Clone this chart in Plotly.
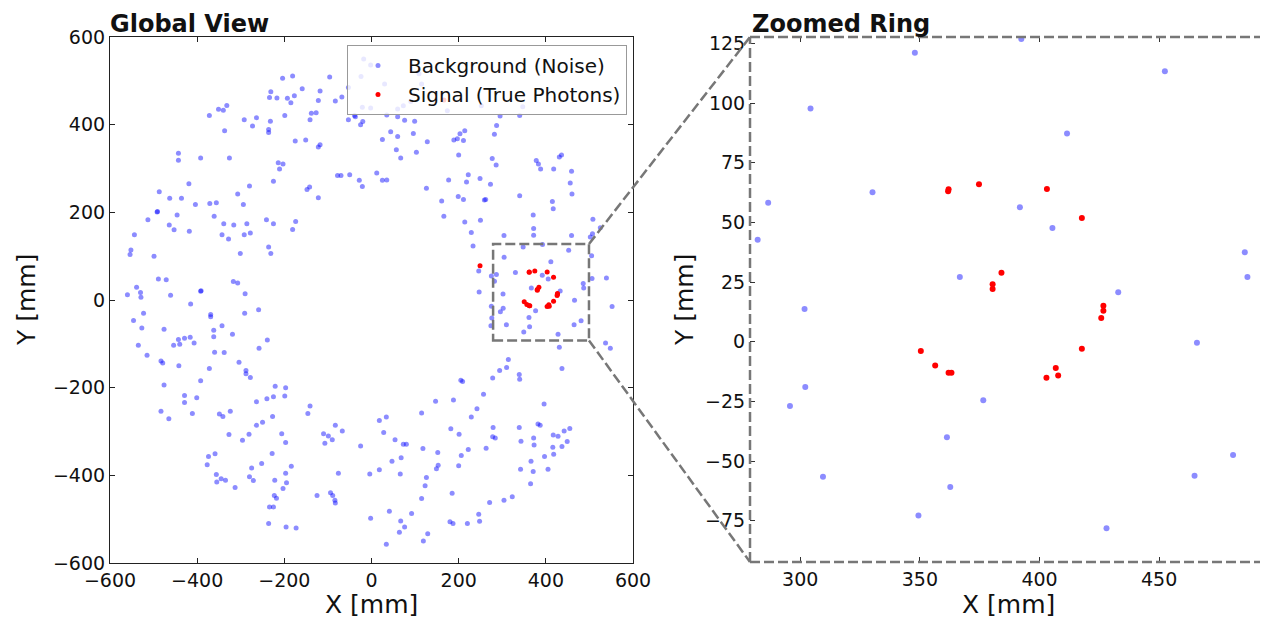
import plotly.graph_objects as go

# page is rendered with an 8px body margin, so the figure is 8px smaller than the window
OFF = 8
W, H = 1268 - OFF, 618 - OFF

# ---------------- data (mm) ----------------
# background hits read from the global view (outside the zoom window)
noise_upper_left = [(-204,506),(-231,475),(-234,462),(-217,461),(-193,460),(-332,444),(-351,435),(-340,433),(-372,421),(-199,421),
    (-292,411),(-264,416),(-232,408),(-273,397),(-337,386),(-236,389),(-236,382),(-443,335),(-443,319),(-392,324),(-326,324),
    (-214,313),(-203,310),(-211,299),(-225,271),(-419,265),(-280,260),(-487,247),(-307,242),(-463,232),(-436,232),(-404,218),
    (-371,220),(-356,222),(-294,218),(-492,201),(-491,202),(-446,194),(-361,191)]
noise_mid_left = [(-513,183),(-464,171),(-453,160),(-418,157),(-544,149),(-339,174),(-316,171),(-286,174),(-241,183),(-225,174),
    (-343,149),(-328,139),(-292,149),(-278,153),(-236,121),(-231,106),(-301,106),(-552,114),(-554,104),(-499,100),(-489,48),
    (-471,46),(-539,29),(-560,12),(-530,17),(-529,6),(-461,11),(-392,20),(-391,21),(-317,42),(-307,39),(-290,14),(-415,-9),
    (-523,-30),(-546,-47),(-369,-33),(-369,-38),(-291,-30),(-259,-22),(-527,-64),(-476,-67),(-343,-59),(-362,-69),(-362,-84),
    (-319,-78),(-443,-90),(-429,-87),(-416,-85),(-454,-103),(-440,-101),(-407,-98),(-535,-103),(-239,-91),(-258,-110),
    (-515,-126),(-483,-139),(-479,-144),(-360,-119),(-338,-120),(-304,-142),(-442,-150),(-372,-156),(-288,-161),(-288,-168),
    (-278,-177),(-392,-184),(-476,-194),(-221,-197),(-197,-200)]
noise_lower_left = [(-429,-218),(-429,-234),(-401,-223),(-483,-254),(-465,-271),(-411,-259),(-349,-260),(-341,-266),(-324,-254),
    (-264,-232),(-240,-225),(-225,-221),(-199,-219),(-227,-266),(-250,-279),(-264,-286),(-327,-307),(-296,-320),(-281,-306),
    (-206,-305),(-197,-325),(-228,-350),(-374,-357),(-359,-351),(-377,-376),(-252,-373),(-275,-383),(-356,-398),(-345,-408),
    (-335,-411),(-355,-415),(-280,-403),(-271,-412),(-313,-428),(-222,-411),(-197,-395),(-195,-417),(-203,-430),(-223,-446),
    (-218,-452),(-234,-472),(-225,-472),(-236,-510),(-196,-518)]
noise_upper_mid = [(-181,511),(-159,482),(-177,466),(-185,450),(-118,477),(-122,455),(-96,509),(-83,454),(-68,463),(-2,536),
    (-138,426),(-127,427),(-141,411),(-53,411),(-39,421),(-37,418),(-20,407),(-25,400),(35,422),(60,418),(76,410),(99,408),
    (44,384),(60,373),(96,380),(-175,363),(-151,365),(-122,349),(-118,354),(25,366),(57,343),(67,324),(103,337),(128,361),
    (189,365),(197,368),(203,379),(200,331),(-78,284),(-70,284),(-50,286),(-28,273),(-21,259),(12,290),(25,273),(35,274),
    (-148,252),(-142,258),(-122,233),(126,255),(177,274),(161,226),(199,236),(166,191),
    (-18,550),(-24,510),(30,493),(-53,485),(109,516),(115,493),(-21,440),(-2,438),(73,443),(90,453),(60,436),(174,432),
    (-174,179),(-181,161)]
noise_upper_right = [(295,420),(340,421),(252,443),(347,441),(287,398),(282,378),(214,386),(211,364),(277,323),(286,308),
    (378,318),(383,310),(388,299),(418,299),(431,326),(436,331),(459,294),(456,267),(460,242),(222,286),(218,269),(249,277),
    (273,264),(340,238),(211,229),(259,228),(262,229),(415,225),(417,208),(371,194)]
noise_mid_right = [(214,178),(250,182),(229,154),(304,147),(372,163),(372,148),(508,184),(525,165),(507,151),(502,144),
    (459,147),(233,123),(246,66),(247,18),(275,55),(539,50),(506,49),(505,101),(552,-15),(275,-14),(276,-41),(274,-59),
    (431,-108),(537,-98),(548,-110),(314,-136),(310,-154),(294,-161),(278,-178),(339,-170),(340,-181),(437,-156),
    (205,-183),(209,-186)]
noise_lower_mid = [(-184,-379),(-173,-520),(-141,-242),(-146,-259),(-83,-286),(-67,-299),(-110,-305),(-99,-310),(-90,-319),
    (-107,-327),(-25,-333),(18,-275),(34,-267),(28,-302),(54,-319),(73,-329),(80,-329),(115,-258),(147,-231),(188,-228),
    (182,-294),(201,-306),(118,-339),(152,-348),(206,-355),(47,-368),(68,-360),(18,-387),(-4,-397),(66,-397),(153,-377),
    (149,-385),(200,-378),(126,-405),(123,-424),(-76,-395),(-125,-446),(-94,-440),(-89,-446),(-84,-457),(-83,-463),
    (115,-453),(185,-441),(41,-482),(-2,-498),(92,-487),(67,-504),(76,-518),(64,-530),(34,-557),(129,-533),(119,-550),
    (180,-506),(187,-510)]
noise_lower_right = [(257,-215),(396,-237),(242,-248),(229,-267),(279,-291),(339,-291),(382,-283),(387,-286),(278,-312),
    (284,-315),(343,-322),(372,-315),(373,-331),(417,-308),(428,-311),(442,-299),(455,-293),(263,-338),(222,-341),
    (416,-336),(437,-334),(449,-323),(418,-352),(397,-357),(366,-368),(342,-386),(371,-391),(405,-386),(365,-419),
    (323,-449),(304,-457),(271,-462),(246,-489),(248,-505),(220,-510)]
# background hits
noise_zoom = [(347.9,121.1),(304.3,97.7),(286.6,58.2),(330.2,62.6),(282.2,42.7),(366.7,27.1),(392.4,126.9),(452.4,113.4),
    (411.5,87.3),(391.8,56.4),(405.4,47.7),(485.8,37.5),(486.9,27.1),(432.9,20.7),(301.8,13.7),(302.1,-19.0),(295.7,-26.9),
    (309.5,-56.6),(376.5,-24.5),(361.3,-40.0),(362.7,-60.9),(349.4,-72.8),(428.0,-78.2),(465.8,-0.4),(480.9,-47.5),
    (464.8,-56.2)]
# signal photons
signal = [(362.0,63.9),(361.8,63.1),(374.7,66.0),(384.1,28.9),(380.4,24.1),(380.4,22.1),(403.1,64.0),(417.7,51.9),
    (426.7,15.1),(426.7,13.0),(425.8,10.0),(417.7,-2.9),(406.8,-11.0),(407.8,-14.1),(402.9,-15.1),(350.4,-3.9),
    (356.4,-10.0),(362.0,-13.0),(363.2,-13.0),(249,78),(166,456)]

global_ticks = [-600, -400, -200, 0, 200, 400, 600]
zoom_xticks = [300, 350, 400, 450]
zoom_yticks = [-75, -50, -25, 0, 25, 50, 75, 100, 125]
zoom_window_x = (279, 499)
zoom_window_y = (-92.3, 127.7)

noise = (noise_upper_left + noise_mid_left + noise_lower_left + noise_upper_mid + noise_upper_right
         + noise_mid_right + noise_lower_mid + noise_lower_right + noise_zoom)
nx = [p[0] for p in noise]
ny = [p[1] for p in noise]
sx = [p[0] for p in signal]
sy = [p[1] for p in signal]

FONT = "DejaVu Sans"
BLUE = "rgba(0,0,255,0.45)"
RED = "rgb(255,0,0)"


def fx(px):  # window pixel -> paper fraction
    return (px - OFF) / W


def fy(py):
    return 1 - (py - OFF) / H


fig = go.Figure()
fig.add_trace(go.Scatter(x=nx, y=ny, mode="markers", name="Background (Noise)",
                         marker=dict(size=5, color=BLUE, line=dict(width=0)), xaxis="x", yaxis="y"))
fig.add_trace(go.Scatter(x=sx, y=sy, mode="markers", name="Signal (True Photons)",
                         marker=dict(size=5, color=RED, line=dict(width=0)), xaxis="x", yaxis="y"))
fig.add_trace(go.Scatter(x=nx, y=ny, mode="markers", showlegend=False,
                         marker=dict(size=6, color=BLUE, line=dict(width=0)), xaxis="x2", yaxis="y2"))
fig.add_trace(go.Scatter(x=sx, y=sy, mode="markers", showlegend=False,
                         marker=dict(size=6, color=RED, line=dict(width=0)), xaxis="x2", yaxis="y2"))

# domains (paper fractions)
L_x = (fx(110), fx(633))
L_y = (fy(563), fy(37))
R_x = (fx(750), 1.0)
R_y = (fy(562), fy(37))
R_xrange = (279, 495.5)

tick_font = dict(family=FONT, size=19, color="#111")
common = dict(showgrid=False, zeroline=False, ticks="inside", ticklen=5, tickwidth=1,
              tickfont=tick_font, mirror="ticks", automargin=False)

fig.update_layout(
    width=W, height=H, autosize=False,
    margin=dict(l=0, r=0, t=0, b=0, autoexpand=False),
    paper_bgcolor="white", plot_bgcolor="white",
    font=dict(family=FONT, color="#111"),
    xaxis=dict(domain=L_x, range=[-600, 600], tickvals=global_ticks, showline=True,
               linecolor="#222", linewidth=1.2, tickcolor="#222", anchor="y", **common),
    yaxis=dict(domain=L_y, range=[-600, 600], tickvals=global_ticks, showline=True,
               linecolor="#222", linewidth=1.2, tickcolor="#222", anchor="x", **common),
    xaxis2=dict(domain=R_x, range=list(R_xrange), tickvals=zoom_xticks, showline=True,
                linecolor="rgba(0,0,0,0)", tickcolor="#333", anchor="y2", **common),
    yaxis2=dict(domain=R_y, range=list(zoom_window_y), tickvals=zoom_yticks, showline=True,
                linecolor="rgba(0,0,0,0)", tickcolor="#333", anchor="x2", **common),
    legend=dict(x=fx(627), xanchor="right", y=fy(45), yanchor="top",
                bgcolor="rgba(255,255,255,0.8)", bordercolor="#999", borderwidth=1,
                font=dict(family=FONT, size=20, color="#111"), itemsizing="trace",
                itemwidth=50, tracegroupgap=0),
)

dash = dict(color="#777", width=2.5, dash="10px,4px")
shapes = []
# zoom window in global view
shapes.append(dict(type="rect", xref="x", yref="y", x0=zoom_window_x[0], x1=zoom_window_x[1],
                   y0=zoom_window_y[0], y1=zoom_window_y[1], line=dash, layer="above"))
# dashed frame of zoom panel (right side cut by figure edge)
shapes.append(dict(type="line", xref="paper", yref="paper", x0=R_x[0], x1=R_x[1], y0=R_y[1], y1=R_y[1], line=dash))
shapes.append(dict(type="line", xref="paper", yref="paper", x0=R_x[0], x1=R_x[1], y0=R_y[0], y1=R_y[0], line=dash))
shapes.append(dict(type="line", xref="paper", yref="paper", x0=R_x[0], x1=R_x[0], y0=R_y[0], y1=R_y[1], line=dash))


def lpx(v):
    return L_x[0] + (v + 600) / 1200 * (L_x[1] - L_x[0])


def lpy(v):
    return L_y[0] + (v + 600) / 1200 * (L_y[1] - L_y[0])


shapes.append(dict(type="line", xref="paper", yref="paper", x0=lpx(zoom_window_x[1]), y0=lpy(zoom_window_y[1]),
                   x1=R_x[0], y1=R_y[1], line=dash))
shapes.append(dict(type="line", xref="paper", yref="paper", x0=lpx(zoom_window_x[1]), y0=lpy(zoom_window_y[0]),
                   x1=R_x[0], y1=R_y[0], line=dash))
fig.update_layout(shapes=shapes)

ann = []
ann.append(dict(text="<b>Global View</b>", x=fx(108), y=1.0, xref="paper", yref="paper",
                xanchor="left", yanchor="top", showarrow=False, font=dict(family=FONT, size=24, color="#111")))
ann.append(dict(text="<b>Zoomed Ring</b>", x=fx(750), y=1.0, xref="paper", yref="paper",
                xanchor="left", yanchor="top", showarrow=False, font=dict(family=FONT, size=24, color="#111")))
for xc in [fx(372), fx(1009)]:
    ann.append(dict(text="X [mm]", x=xc, y=fy(604), xref="paper", yref="paper", xanchor="center",
                    yanchor="middle", showarrow=False, font=dict(family=FONT, size=25, color="#111")))
for xl in [fx(26), fx(684)]:
    ann.append(dict(text="Y [mm]", x=xl, y=fy(300), xref="paper", yref="paper", xanchor="center",
                    yanchor="middle", textangle=-90, showarrow=False, font=dict(family=FONT, size=25, color="#111")))
fig.update_layout(annotations=ann)

fig.write_html("out.html")
